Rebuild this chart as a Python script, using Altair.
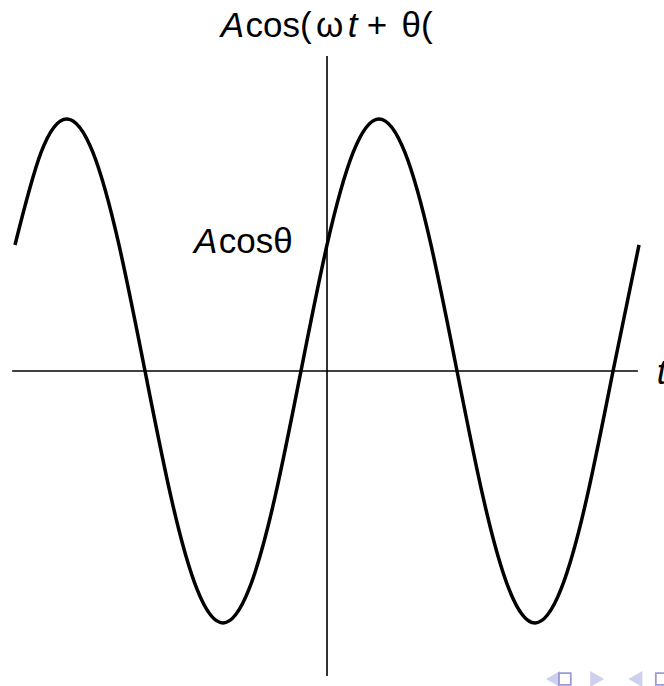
import altair as alt
import pandas as pd

# Curve samples: A*cos(wt + theta) at steps of pi/6 over two periods either side of 0
t_vals = [-6.283, -5.760, -5.236, -4.712, -4.189, -3.665, -3.142, -2.618, -2.094,
          -1.571, -1.047, -0.524, 0.0, 0.524, 1.047, 1.571, 2.094, 2.618, 3.142,
          3.665, 4.189, 4.712, 5.236, 5.760, 6.283]
y_vals = [0.5, 0.866, 1.0, 0.866, 0.5, 0.0, -0.5, -0.866, -1.0,
          -0.866, -0.5, 0.0, 0.5, 0.866, 1.0, 0.866, 0.5, 0.0, -0.5,
          -0.866, -1.0, -0.866, -0.5, 0.0, 0.5]

# Axis extents (data units)
h_axis = {"x": -6.34, "x2": 6.26, "y": 0.0}
v_axis = {"x": 0.0, "y": -1.21, "y2": 1.25}

# Label pieces: text, x, y, italic?
label_text = ["A", "cos(", "ω", "t", "+", "θ(", "A", "cosθ", "t"]
label_x = [-2.14, -1.64, -0.22, 0.42, 0.80, 1.50, -2.68, -2.18, 6.64]
label_y = [1.325, 1.325, 1.325, 1.325, 1.325, 1.325, 0.468, 0.468, -0.052]
label_italic = [True, False, False, True, False, False, True, False, True]

# Navigation symbols in the corner
nav_shape = ["triangle-left", "square", "triangle-right", "triangle-left", "square"]
nav_x = [4.55, 4.79, 5.44, 6.21, 6.74]
nav_y = [-1.222, -1.222, -1.222, -1.222, -1.222]
nav_filled = [True, False, True, True, False]

W, H = 664, 686
xs = alt.Scale(domain=[-6.585, 6.786], nice=False, zero=False)
ys = alt.Scale(domain=[-1.25, 1.472], nice=False, zero=False)

curve_df = pd.DataFrame({"t": t_vals, "y": y_vals})
curve = alt.Chart(curve_df).mark_line(
    color="black", strokeWidth=3.5, interpolate="natural", clip=False
).encode(
    x=alt.X("t:Q", scale=xs, axis=None),
    y=alt.Y("y:Q", scale=ys, axis=None),
)

haxis = alt.Chart(pd.DataFrame([h_axis])).mark_rule(color="black", strokeWidth=1.6).encode(
    x=alt.X("x:Q", scale=xs, axis=None), x2="x2:Q", y=alt.Y("y:Q", scale=ys, axis=None)
)
vaxis = alt.Chart(pd.DataFrame([v_axis])).mark_rule(color="black", strokeWidth=1.6).encode(
    x=alt.X("x:Q", scale=xs, axis=None), y=alt.Y("y:Q", scale=ys, axis=None), y2="y2:Q"
)

lab_df = pd.DataFrame({"text": label_text, "x": label_x, "y": label_y, "it": label_italic})


def label_layer(italic):
    return alt.Chart(lab_df[lab_df["it"] == italic]).mark_text(
        align="left", baseline="alphabetic", font="Liberation Sans", fontSize=35,
        fontStyle="italic" if italic else "normal", color="black"
    ).encode(
        x=alt.X("x:Q", scale=xs, axis=None),
        y=alt.Y("y:Q", scale=ys, axis=None),
        text="text:N",
    )


nav_df = pd.DataFrame({"shape": nav_shape, "x": nav_x, "y": nav_y, "filled": nav_filled})
nav_fill = alt.Chart(nav_df[nav_df["filled"]]).mark_point(
    filled=True, color="#cfcfee", size=260, opacity=1
).encode(
    x=alt.X("x:Q", scale=xs, axis=None), y=alt.Y("y:Q", scale=ys, axis=None),
    shape=alt.Shape("shape:N", scale=None),
)
nav_open = alt.Chart(nav_df[~nav_df["filled"]]).mark_point(
    filled=False, color="#9b9bd8", size=140, strokeWidth=1.8, opacity=1
).encode(
    x=alt.X("x:Q", scale=xs, axis=None), y=alt.Y("y:Q", scale=ys, axis=None),
    shape=alt.Shape("shape:N", scale=None),
)

chart = alt.layer(
    haxis, vaxis, curve, label_layer(True), label_layer(False), nav_fill, nav_open
).properties(
    width=W, height=H, autosize=alt.AutoSizeParams(type="none"), padding=0,
    background="white"
).configure_view(stroke=None)

chart.save("out.html", embed_options={"renderer": "svg", "actions": False})
